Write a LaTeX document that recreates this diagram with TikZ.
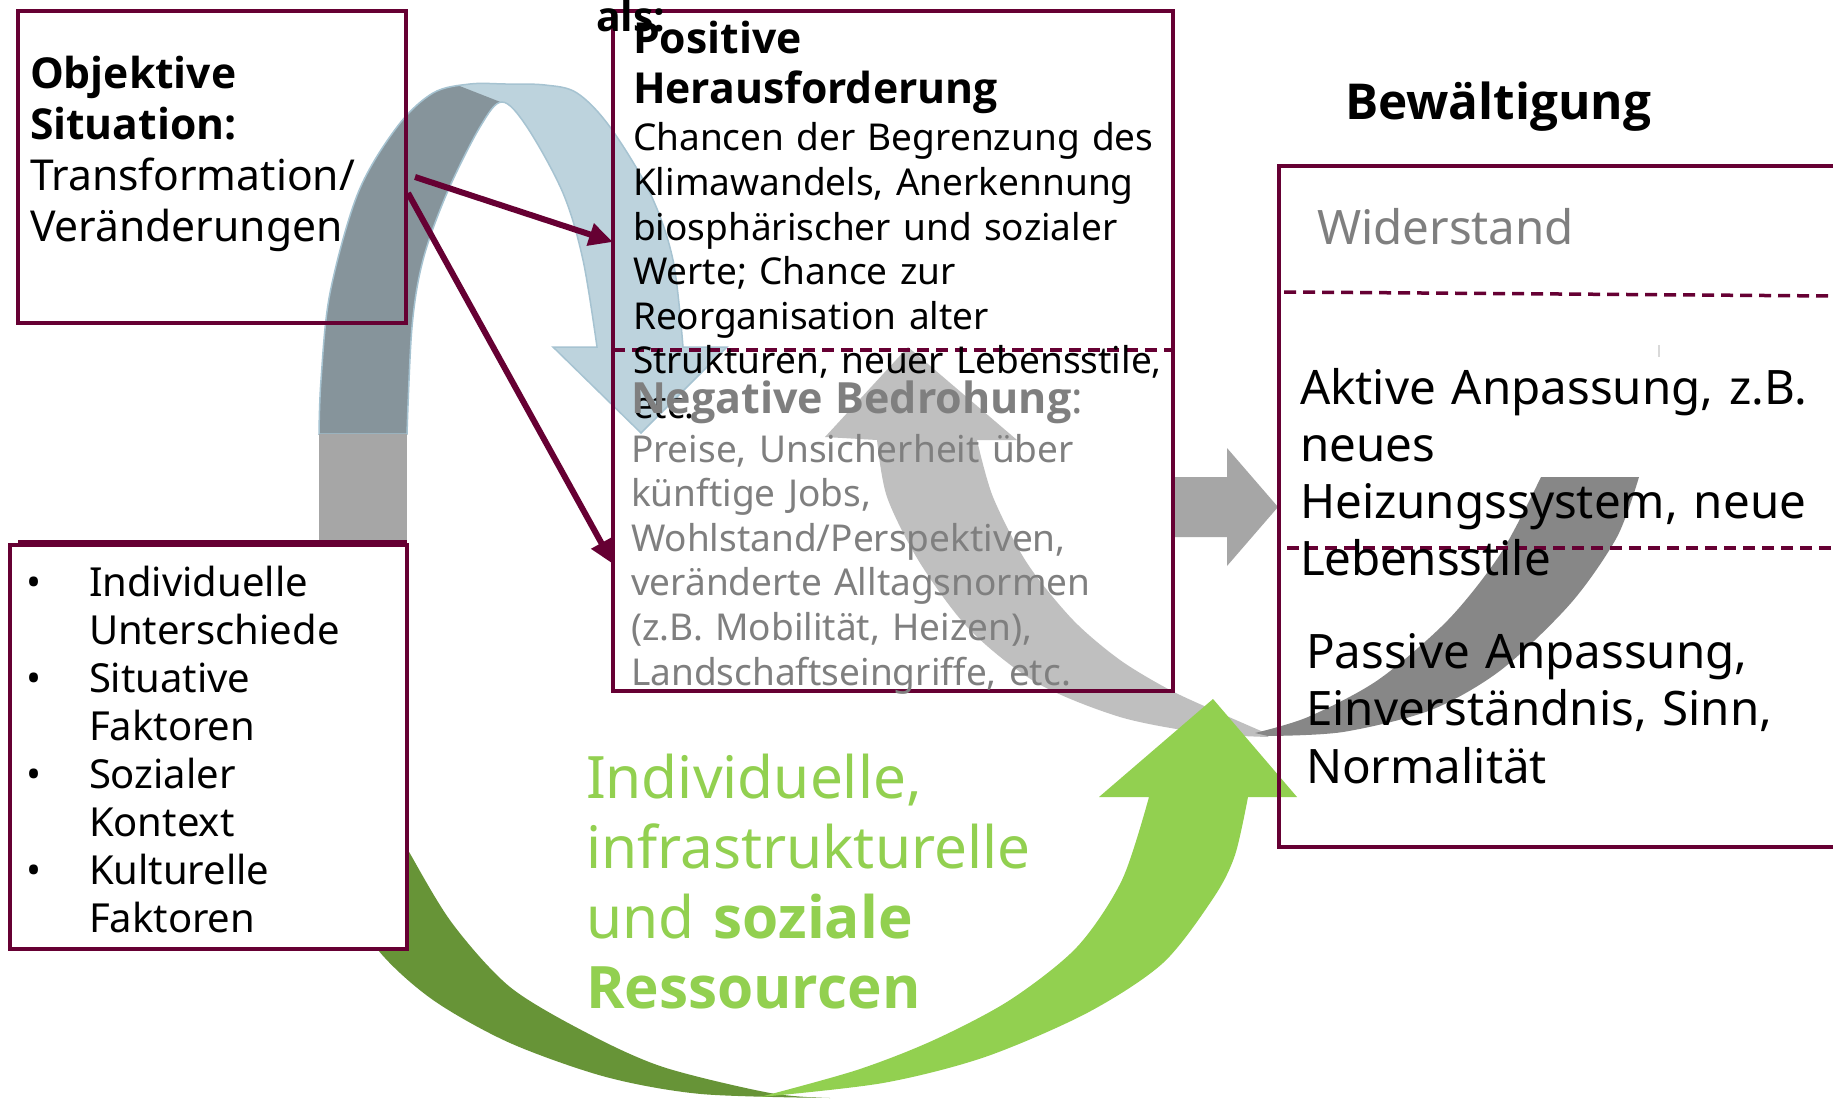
\documentclass[tikz,border=0pt]{standalone}
\usepackage{fontspec}
\IfFontExistsTF{Open Sans Bold}
  {\setmainfont{Noto Sans}[BoldFont={Open Sans Bold}]}
  {\setmainfont{Noto Sans}[BoldFont={Noto Sans}, BoldFeatures={FakeBold=2.5, FakeStretch=1.06}]}
\usetikzlibrary{arrows.meta,calc}

\definecolor{frame}{RGB}{102,0,51}
\definecolor{blueA}{RGB}{189,211,221}
\definecolor{blueEdge}{RGB}{166,195,209}
\definecolor{blueDark}{RGB}{134,148,155}
\definecolor{grayB}{RGB}{166,166,166}
\definecolor{grayL}{RGB}{191,191,191}
\definecolor{grayD}{RGB}{135,135,135}
\definecolor{greenL}{RGB}{146,208,80}
\definecolor{greenD}{RGB}{103,148,55}
\definecolor{textgray}{RGB}{127,127,127}

\newcommand\fsz[2]{\fontsize{#1pt}{#2pt}\selectfont}

\tikzset{
  box/.style={rectangle, draw=frame, line width=3.5pt, inner sep=0pt, outer sep=0pt},
  txt/.style={inner sep=0pt, outer sep=0pt, anchor=base west, align=left, text width=700pt},
  divider/.style={draw=frame, line width=3.5pt, dash pattern=on 12pt off 7pt},
  link/.style={draw=frame, line width=6pt, -{Triangle[length=24pt,width=22pt]}},
}

% outline of the U-turn arrow over the first box
\def\uturnoutline{plot[smooth,tension=0.55] coordinates {(319,434) (321,380) (330,293) (358,193) (397,127) (433,93) (470,84) (505,84) (545,85) (577,93) (610,127) (650,193) (673,260) (683,347)}
  -- (727,347) -- (641,433) -- (553,347) -- (597,347)
  -- plot[smooth,tension=0.55] coordinates {(597,347) (583,260) (563,193) (527,127) (502,102) (480,127) (447,193) (423,260) (412,327) (407,434)} -- cycle}

\begin{document}
\begin{tikzpicture}[x=1pt,y=-1pt]
\useasboundingbox (0,0) rectangle (1833,1099);
\fill[white] (0,0) rectangle (1833,1099);
\clip (0,0) rectangle (1833,1099);

% ---- U-turn arrow: transformation is appraised
\path[fill=blueA] \uturnoutline;
\begin{scope}
  \clip (250,460) -- (250,30) -- (411,67) -- (503,103) -- (503,460) -- cycle;
  \path[fill=blueDark] \uturnoutline;
\end{scope}
\path[draw=blueEdge, line width=1.5pt] \uturnoutline;
\fill[grayB] (319,434) rectangle (407,545);

% ---- large grey swoosh from coping back to appraisal
\fill[grayL] (908,347) -- (1017,440) -- (977,440)
  -- plot[smooth] coordinates {(977,440) (993,497) (1027,563) (1073,620) (1120,660) (1170,690) (1220,713) (1268,734)}
  -- plot[smooth] coordinates {(1268,737) (1203,733) (1120,717) (1037,683) (970,630) (920,563) (887,497) (877,440)}
  -- (825,437) -- cycle;
\fill[grayD] (1541,477) -- (1639,477)
  -- plot[smooth] coordinates {(1639,477) (1617,537) (1571,603) (1501,670) (1431,710) (1343,732) (1268,736)}
  -- plot[smooth] coordinates {(1255,733) (1308,717) (1378,680) (1448,620) (1501,553) (1541,477)} -- cycle;

% ---- green resources arrow
\fill[greenD] plot[smooth] coordinates {(370,780) (408,850) (452,923) (510,987) (587,1033) (663,1067) (770,1093) (830,1098)}
  -- plot[smooth] coordinates {(830,1098) (701,1094) (606,1077) (510,1043) (433,1000) (378,950) (335,880)} -- cycle;
\fill[greenL] (1213,699) -- (1297,797) -- (1248,797)
  -- plot[smooth] coordinates {(1248,797) (1235,855) (1214,897) (1163,963) (1087,1013) (985,1057) (883,1083) (760,1097)}
  -- plot[smooth] coordinates {(760,1097) (857,1070) (934,1040) (1010,1000) (1077,947) (1122,880) (1149,797)}
  -- (1099,797) -- cycle;

% ---- block arrow between appraisal and coping
\fill[grayB] (1174,477) -- (1227,477) -- (1227,448) -- (1278,507) -- (1227,566) -- (1227,537) -- (1174,537) -- cycle;

% ---- boxes
\node[box, line width=4.5pt, minimum width=388pt, minimum height=312pt, anchor=north west] (sit) at (18,11) {};
\node[box, minimum width=560pt, minimum height=680pt, anchor=north west] (eval) at (613,11) {};
\node[box, minimum width=571pt, minimum height=681pt, anchor=north west] (cope) at (1279,166) {};
\node[box, line width=4.5pt, fill=white, minimum width=397pt, minimum height=404pt, anchor=north west] (fac) at (10,545) {};
\draw[frame, line width=4.5pt] (18,542) -- (407,542);

% dividers
\draw[divider] (eval.north west |- 0,350) -- (eval.north east |- 0,350);
\draw[divider] (1284,292) -- (1833,296);
\draw[divider] (1287,548) -- (1833,548);
\draw[black!15, line width=1.5pt] (1659,345) -- (1659,357);

% ---- texts
\node[txt, font=\fsz{42.6}{51}] (sittext) at (30,89)
  {\textbf{Objektive}\\ \textbf{Situation:}\\ Transformation/\\ Veränderungen};

\node[txt, font=\fsz{41}{44.6}\bfseries] (als) at (596,32) {als:};
\node[txt, font=\fsz{37}{44.6}] (postext) at (633,54)
  {\textbf{\fsz{42.7}{44.6}Positive}\\[5.4pt] \textbf{\fsz{42.7}{44.6}Herausforderung}\\[2.4pt] Chancen der Begrenzung des\\ Klimawandels, Anerkennung\\ biosphärischer und sozialer\\ Werte; Chance zur\\ Reorganisation alter\\ Strukturen, neuer Lebensstile,\\ etc.};
\node[txt, font=\fsz{37}{44.6}, text=textgray] (negtext) at (631,413)
  {{\fsz{43}{44.6}\textbf{Negative Bedrohung}:}\\[4.4pt] Preise, Unsicherheit über\\ künftige Jobs,\\ Wohlstand/Perspektiven,\\ veränderte Alltagsnormen\\ (z.B. Mobilität, Heizen),\\ Landschaftseingriffe, etc.};

\node[txt, font=\fsz{49.5}{56}\bfseries] (copetitle) at (1345,120) {Bewältigung};
\node[txt, font=\fsz{47.5}{57}, text=textgray] (resist) at (1317,245) {Widerstand};
\node[txt, font=\fsz{47.5}{57}] (active) at (1300,404)
  {Aktive Anpassung, z.B.\\ neues\\ Heizungssystem, neue\\ Lebensstile};
\node[txt, font=\fsz{47.5}{57.5}] (passive) at (1306,668)
  {Passive Anpassung,\\ Einverständnis, Sinn,\\ Normalität};

\node[txt, font=\fsz{40}{48}] (bullets) at (26,596) {•\\[48pt] •\\[48pt] •\\[48pt] •};
\node[txt, font=\fsz{40}{48}] (factext) at (89,596)
  {Individuelle\\ Unterschiede\\ Situative\\ Faktoren\\ Sozialer\\ Kontext\\ Kulturelle\\ Faktoren};

\node[txt, font=\fsz{58.5}{70}, text=greenL] (restext) at (586,798)
  {Individuelle,\\ infrastrukturelle\\ und \textbf{soziale}\\ \textbf{Ressourcen}};

% ---- links from the situation to both appraisals
\draw[link] ($(sit.north east)+(9,166)$) -- ($(eval.north west)+(0,231)$);
\draw[link] ($(sit.north east)+(2,182)$) -- ($(eval.north west)+(0,553)$);
\end{tikzpicture}
\end{document}
